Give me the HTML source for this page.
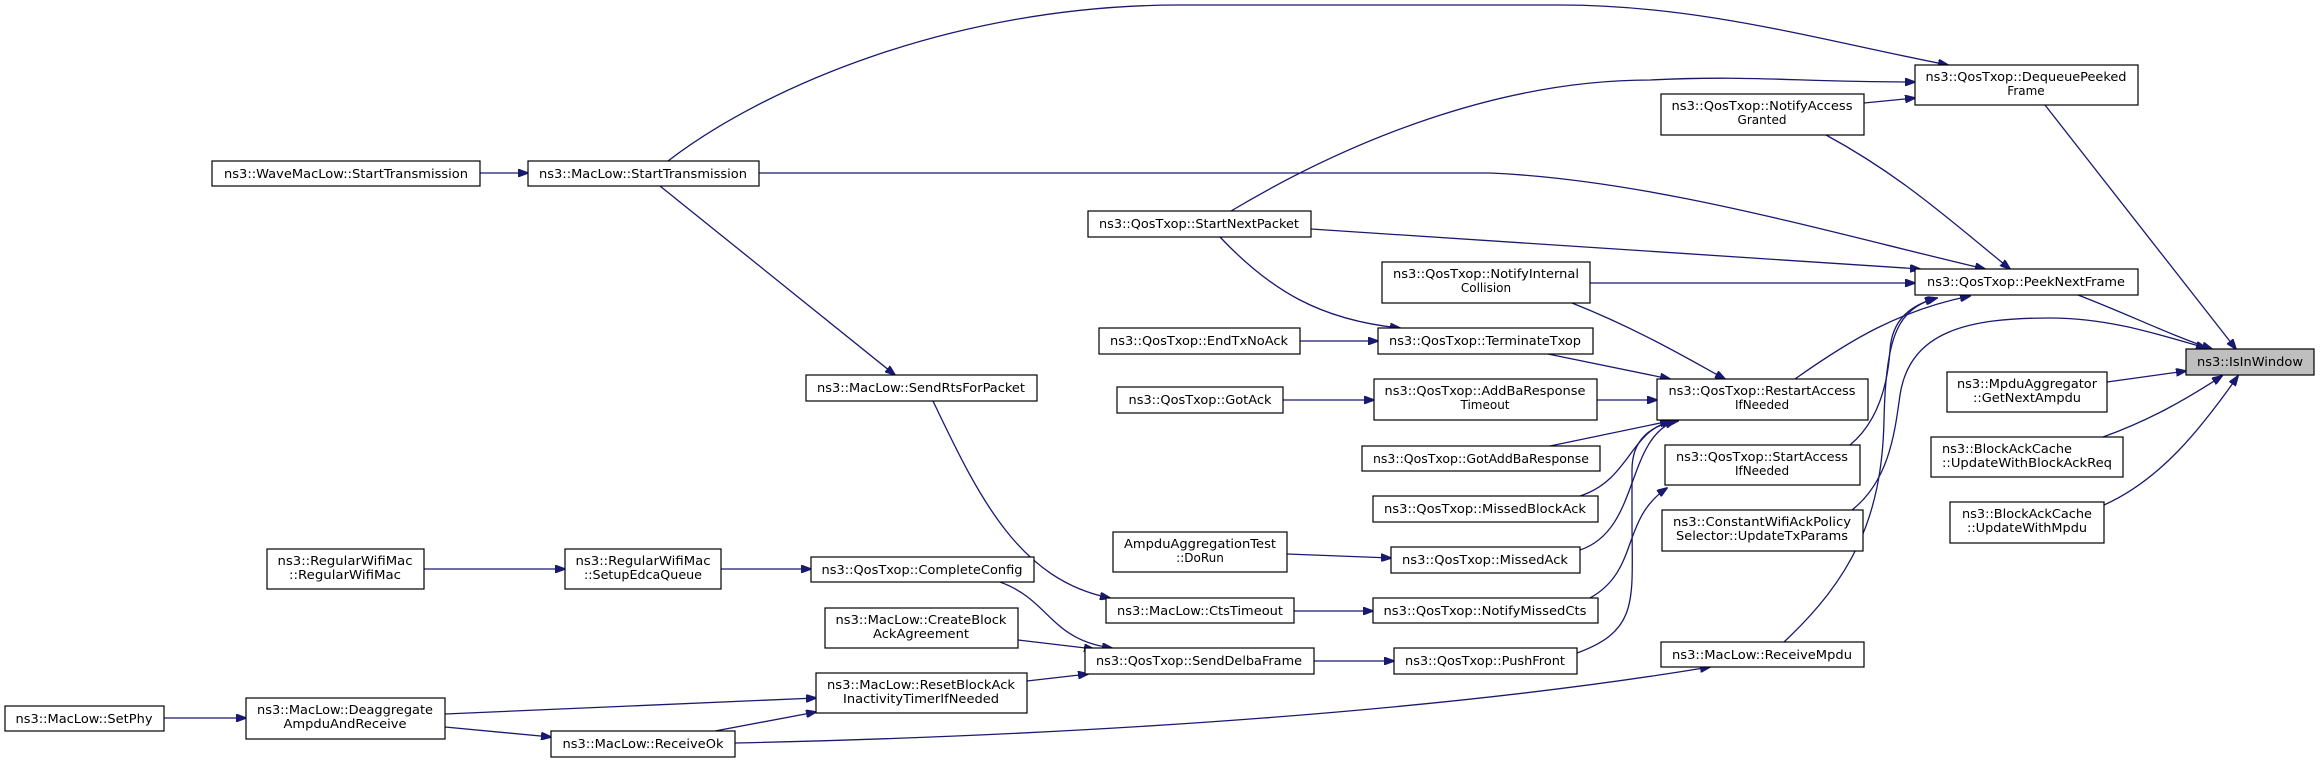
<!DOCTYPE html>
<html><head><meta charset="utf-8"><style>
html,body{margin:0;padding:0;background:#fff;}
svg{display:block;}
text{font-family:"DejaVu Sans","Liberation Sans",sans-serif;font-size:12px;fill:#000;}
.n{fill:#fff;stroke:#000;stroke-width:1.2;}
.e{fill:none;stroke:#191970;stroke-width:1.3;}
</style></head><body>
<svg width="2320" height="763" viewBox="0 0 2320 763" xmlns="http://www.w3.org/2000/svg">
<defs><marker id="a" markerWidth="11" markerHeight="8" refX="10" refY="4" orient="auto" markerUnits="userSpaceOnUse"><path d="M0,0 L11,4 L0,8 z" fill="#191970" stroke="#191970"/></marker></defs>
<g class="e" marker-end="url(#a)">
<path d="M480,173 L528,173"/>
<path d="M668,161 C760,90 950,5 1180,5 L1560,5 C1700,5 1820,40 1948,65"/>
<path d="M759,173 L1490,173 C1650,180 1820,230 1985,269"/>
<path d="M660,186 L895,375"/>
<path d="M1231,211 C1350,140 1500,80 1650,80 C1750,75 1800,82 1915,82"/>
<path d="M1864,103 L1915,98"/>
<path d="M1826,135 C1900,175 1950,220 2010,269"/>
<path d="M1311,229 L1920,269"/>
<path d="M1220,237 C1270,290 1320,320 1400,328"/>
<path d="M1590,283 L1915,283"/>
<path d="M1572,303 C1640,330 1690,360 1725,379"/>
<path d="M1300,341 L1378,341"/>
<path d="M1548,354 L1670,379"/>
<path d="M1283,400 L1374,400"/>
<path d="M1597,400 L1657,400"/>
<path d="M1550,446 L1670,421"/>
<path d="M1580,496 C1630,480 1630,430 1672,421"/>
<path d="M1580,550 C1640,530 1625,440 1675,421"/>
<path d="M1590,598 C1640,570 1620,520 1667,488"/>
<path d="M1577,653 C1640,630 1632,600 1632,520 L1632,470 C1632,440 1650,425 1678,421"/>
<path d="M1850,445 C1880,420 1888,380 1890,350 C1892,320 1910,305 1937,298"/>
<path d="M1784,642 C1850,580 1882,520 1884,420 C1886,330 1900,310 1935,298"/>
<path d="M1852,510 C1890,480 1895,430 1900,395 C1910,330 1970,318 2050,318 C2110,318 2160,335 2206,348"/>
<path d="M1795,379 C1850,340 1900,310 1970,296"/>
<path d="M2078,295 C2130,315 2170,335 2212,349"/>
<path d="M2045,105 L2236,349"/>
<path d="M2107,382 L2186,371"/>
<path d="M2103,437 C2150,420 2185,400 2222,376"/>
<path d="M2104,505 C2160,480 2200,430 2238,376"/>
<path d="M424,569 L565,569"/>
<path d="M721,569 L811,569"/>
<path d="M933,401 C980,500 1020,580 1110,598"/>
<path d="M1287,554 L1391,558"/>
<path d="M1294,611 L1373,611"/>
<path d="M1000,582 C1050,600 1050,640 1112,648"/>
<path d="M1018,640 L1094,649"/>
<path d="M1027,681 L1088,674"/>
<path d="M1314,661 L1394,661"/>
<path d="M164,718 L246,718"/>
<path d="M445,714 L816,698"/>
<path d="M445,727 L551,737"/>
<path d="M715,731 L816,712"/>
<path d="M735,743 C1100,735 1450,710 1710,667"/>
</g>
<g>
<rect class="n" x="212" y="161" width="268" height="25"/><text x="346" y="178" text-anchor="middle" textLength="244" lengthAdjust="spacingAndGlyphs">ns3::WaveMacLow::StartTransmission</text>
<rect class="n" x="528" y="161" width="231" height="25"/><text x="643" y="178" text-anchor="middle" textLength="208" lengthAdjust="spacingAndGlyphs">ns3::MacLow::StartTransmission</text>
<rect class="n" x="1088" y="211" width="223" height="26"/><text x="1199" y="228" text-anchor="middle" textLength="200" lengthAdjust="spacingAndGlyphs">ns3::QosTxop::StartNextPacket</text>
<rect class="n" x="1382" y="262" width="208" height="41"/><text x="1486" y="278" text-anchor="middle" textLength="186" lengthAdjust="spacingAndGlyphs">ns3::QosTxop::NotifyInternal</text><text x="1486" y="292" text-anchor="middle">Collision</text>
<rect class="n" x="1099" y="328" width="201" height="26"/><text x="1199" y="345" text-anchor="middle" textLength="178" lengthAdjust="spacingAndGlyphs">ns3::QosTxop::EndTxNoAck</text>
<rect class="n" x="1378" y="328" width="215" height="26"/><text x="1485" y="345" text-anchor="middle" textLength="192" lengthAdjust="spacingAndGlyphs">ns3::QosTxop::TerminateTxop</text>
<rect class="n" x="806" y="375" width="231" height="26"/><text x="921" y="392" text-anchor="middle" textLength="208" lengthAdjust="spacingAndGlyphs">ns3::MacLow::SendRtsForPacket</text>
<rect class="n" x="1117" y="387" width="166" height="26"/><text x="1200" y="404" text-anchor="middle" textLength="143" lengthAdjust="spacingAndGlyphs">ns3::QosTxop::GotAck</text>
<rect class="n" x="1374" y="379" width="223" height="41"/><text x="1485" y="395" text-anchor="middle" textLength="201" lengthAdjust="spacingAndGlyphs">ns3::QosTxop::AddBaResponse</text><text x="1485" y="409" text-anchor="middle">Timeout</text>
<rect class="n" x="1915" y="65" width="223" height="40"/><text x="2026" y="81" text-anchor="middle" textLength="201" lengthAdjust="spacingAndGlyphs">ns3::QosTxop::DequeuePeeked</text><text x="2026" y="95" text-anchor="middle">Frame</text>
<rect class="n" x="1661" y="94" width="203" height="41"/><text x="1762" y="110" text-anchor="middle" textLength="181" lengthAdjust="spacingAndGlyphs">ns3::QosTxop::NotifyAccess</text><text x="1762" y="124" text-anchor="middle">Granted</text>
<rect class="n" x="1915" y="269" width="223" height="26"/><text x="2026" y="286" text-anchor="middle" textLength="198" lengthAdjust="spacingAndGlyphs">ns3::QosTxop::PeekNextFrame</text>
<rect x="2186" y="349" width="128" height="26" fill="#bfbfbf" stroke="#000" stroke-width="1.2"/><text x="2250" y="366" text-anchor="middle" textLength="106" lengthAdjust="spacingAndGlyphs">ns3::IsInWindow</text>
<rect class="n" x="1947" y="372" width="160" height="40"/><text x="2027" y="388" text-anchor="middle" textLength="140" lengthAdjust="spacingAndGlyphs">ns3::MpduAggregator</text><text x="2027" y="402" text-anchor="middle" textLength="108" lengthAdjust="spacingAndGlyphs">::GetNextAmpdu</text>
<rect class="n" x="1657" y="379" width="211" height="41"/><text x="1762" y="395" text-anchor="middle" textLength="187" lengthAdjust="spacingAndGlyphs">ns3::QosTxop::RestartAccess</text><text x="1762" y="409" text-anchor="middle">IfNeeded</text>
<rect class="n" x="1665" y="445" width="195" height="40"/><text x="1762" y="461" text-anchor="middle" textLength="172" lengthAdjust="spacingAndGlyphs">ns3::QosTxop::StartAccess</text><text x="1762" y="475" text-anchor="middle">IfNeeded</text>
<rect class="n" x="1662" y="510" width="201" height="41"/><text x="1762" y="526" text-anchor="middle" textLength="178" lengthAdjust="spacingAndGlyphs">ns3::ConstantWifiAckPolicy</text><text x="1762" y="540" text-anchor="middle" textLength="172" lengthAdjust="spacingAndGlyphs">Selector::UpdateTxParams</text>
<rect class="n" x="1931" y="437" width="192" height="40"/><text x="1942" y="453" textLength="130" lengthAdjust="spacingAndGlyphs">ns3::BlockAckCache</text><text x="1942" y="467" textLength="170" lengthAdjust="spacingAndGlyphs">::UpdateWithBlockAckReq</text>
<rect class="n" x="1950" y="502" width="154" height="41"/><text x="2027" y="518" text-anchor="middle" textLength="130" lengthAdjust="spacingAndGlyphs">ns3::BlockAckCache</text><text x="2027" y="532" text-anchor="middle" textLength="120" lengthAdjust="spacingAndGlyphs">::UpdateWithMpdu</text>
<rect class="n" x="1661" y="642" width="203" height="25"/><text x="1762" y="659" text-anchor="middle" textLength="180" lengthAdjust="spacingAndGlyphs">ns3::MacLow::ReceiveMpdu</text>
<rect class="n" x="1362" y="446" width="238" height="25"/><text x="1481" y="463" text-anchor="middle" textLength="216" lengthAdjust="spacingAndGlyphs">ns3::QosTxop::GotAddBaResponse</text>
<rect class="n" x="1373" y="496" width="225" height="26"/><text x="1485" y="513" text-anchor="middle" textLength="202" lengthAdjust="spacingAndGlyphs">ns3::QosTxop::MissedBlockAck</text>
<rect class="n" x="1113" y="532" width="174" height="40"/><text x="1200" y="548" text-anchor="middle" textLength="152" lengthAdjust="spacingAndGlyphs">AmpduAggregationTest</text><text x="1200" y="562" text-anchor="middle">::DoRun</text>
<rect class="n" x="1391" y="547" width="189" height="26"/><text x="1485" y="564" text-anchor="middle" textLength="166" lengthAdjust="spacingAndGlyphs">ns3::QosTxop::MissedAck</text>
<rect class="n" x="811" y="557" width="223" height="25"/><text x="922" y="574" text-anchor="middle" textLength="201" lengthAdjust="spacingAndGlyphs">ns3::QosTxop::CompleteConfig</text>
<rect class="n" x="1106" y="598" width="188" height="25"/><text x="1200" y="615" text-anchor="middle" textLength="166" lengthAdjust="spacingAndGlyphs">ns3::MacLow::CtsTimeout</text>
<rect class="n" x="1373" y="598" width="225" height="25"/><text x="1485" y="615" text-anchor="middle" textLength="203" lengthAdjust="spacingAndGlyphs">ns3::QosTxop::NotifyMissedCts</text>
<rect class="n" x="825" y="608" width="193" height="40"/><text x="921" y="624" text-anchor="middle" textLength="171" lengthAdjust="spacingAndGlyphs">ns3::MacLow::CreateBlock</text><text x="921" y="638" text-anchor="middle" textLength="96" lengthAdjust="spacingAndGlyphs">AckAgreement</text>
<rect class="n" x="1085" y="648" width="229" height="26"/><text x="1199" y="665" text-anchor="middle" textLength="206" lengthAdjust="spacingAndGlyphs">ns3::QosTxop::SendDelbaFrame</text>
<rect class="n" x="1394" y="648" width="183" height="26"/><text x="1485" y="665" text-anchor="middle" textLength="160" lengthAdjust="spacingAndGlyphs">ns3::QosTxop::PushFront</text>
<rect class="n" x="816" y="673" width="211" height="40"/><text x="921" y="689" text-anchor="middle" textLength="188" lengthAdjust="spacingAndGlyphs">ns3::MacLow::ResetBlockAck</text><text x="921" y="703" text-anchor="middle" textLength="156" lengthAdjust="spacingAndGlyphs">InactivityTimerIfNeeded</text>
<rect class="n" x="267" y="549" width="157" height="40"/><text x="345" y="565" text-anchor="middle" textLength="135" lengthAdjust="spacingAndGlyphs">ns3::RegularWifiMac</text><text x="345" y="579" text-anchor="middle" textLength="112" lengthAdjust="spacingAndGlyphs">::RegularWifiMac</text>
<rect class="n" x="565" y="549" width="156" height="40"/><text x="643" y="565" text-anchor="middle" textLength="135" lengthAdjust="spacingAndGlyphs">ns3::RegularWifiMac</text><text x="643" y="579" text-anchor="middle" textLength="118" lengthAdjust="spacingAndGlyphs">::SetupEdcaQueue</text>
<rect class="n" x="5" y="706" width="159" height="25"/><text x="84" y="723" text-anchor="middle" textLength="137" lengthAdjust="spacingAndGlyphs">ns3::MacLow::SetPhy</text>
<rect class="n" x="246" y="698" width="199" height="41"/><text x="345" y="714" text-anchor="middle" textLength="176" lengthAdjust="spacingAndGlyphs">ns3::MacLow::Deaggregate</text><text x="345" y="728" text-anchor="middle" textLength="123" lengthAdjust="spacingAndGlyphs">AmpduAndReceive</text>
<rect class="n" x="551" y="731" width="184" height="26"/><text x="643" y="748" text-anchor="middle" textLength="161" lengthAdjust="spacingAndGlyphs">ns3::MacLow::ReceiveOk</text>
</g>
</svg>
</body></html>
